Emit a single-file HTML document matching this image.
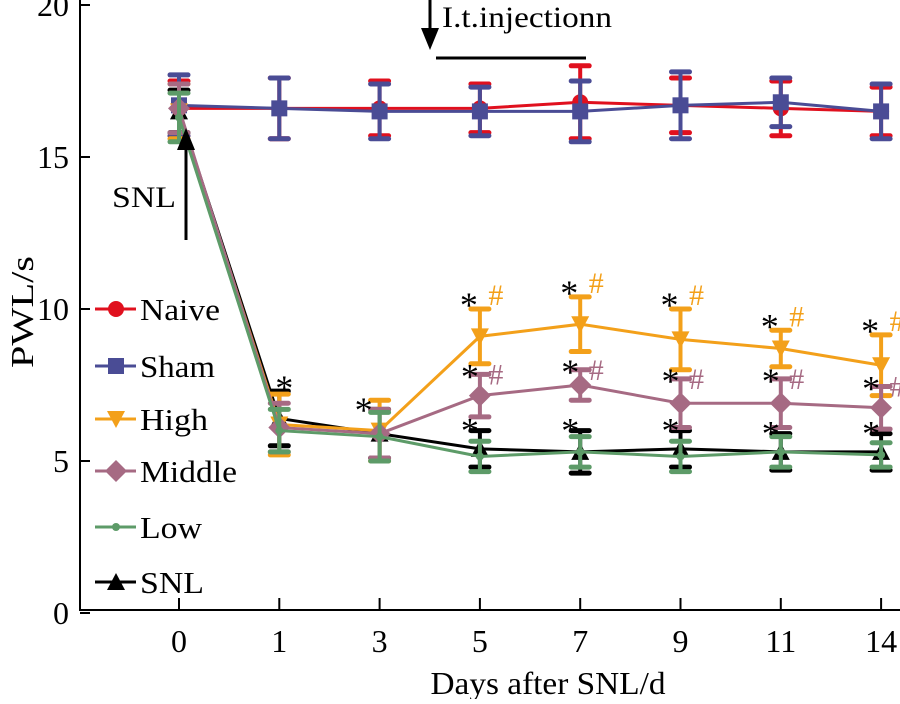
<!DOCTYPE html>
<html><head><meta charset="utf-8"><style>
body{margin:0;background:#fff}
svg text{font-family:"Liberation Serif",serif}
</style></head><body>
<svg id="c" width="900" height="699" viewBox="0 0 900 699" xmlns="http://www.w3.org/2000/svg"></svg>
<script>
const categories=["0","1","3","5","7","9","11","14"];
const yTicks=[0,5,10,15,20];
const naive=[16.6,16.6,16.6,16.6,16.8,16.7,16.6,16.5];
const naiveErr=[0.9,1.0,0.9,0.8,1.2,0.9,0.9,0.8];
const sham=[16.7,16.6,16.5,16.5,16.5,16.7,16.8,16.5];
const shamErr=[1.0,1.0,0.9,0.8,1.0,1.1,0.8,0.9];
const high=[16.5,6.2,6.0,9.1,9.5,9.0,8.7,8.15];
const highErr=[0.9,1.0,1.0,0.9,0.9,1.0,0.6,1.0];
const middle=[16.6,6.1,5.9,7.15,7.5,6.9,6.9,6.75];
const middleErr=[0.8,0.8,0.8,0.7,0.5,0.8,0.8,0.7];
const low=[16.3,6.0,5.8,5.15,5.3,5.15,5.3,5.2];
const lowErr=[0.8,0.7,0.8,0.5,0.5,0.5,0.5,0.4];
const snl=[16.5,6.4,5.9,5.4,5.3,5.4,5.3,5.3];
const snlErr=[0.7,0.9,0.8,0.6,0.7,0.6,0.6,0.6];
const NS="http://www.w3.org/2000/svg";
const svg=document.getElementById('c');
const X=i=>179+i*100.3, Y=v=>613-30.4*v;
function el(t,a,p){const e=document.createElementNS(NS,t);for(const k in a)e.setAttribute(k,a[k]);(p||svg).appendChild(e);return e;}
function txt(x,y,s,col,size,name,anchor,len){
  const a={x:x,y:y,'font-size':size,fill:col,'text-anchor':anchor||'start'};
  if(len){a.textLength=len;a.lengthAdjust='spacingAndGlyphs';}
  const t=el('text',a);
  t.textContent=s;
  
  
  return t;
}
const ax=el('line',{x1:80,y1:0,x2:80,y2:610,stroke:'#000','stroke-width':2});


const bx=el('line',{x1:79,y1:610,x2:900,y2:610,stroke:'#000','stroke-width':2});


yTicks.forEach(v=>{
  el('line',{x1:80,y1:Y(v),x2:90,y2:Y(v),stroke:'#000','stroke-width':2});
  txt(69,Y(v)+11,String(v),'#000',32,'y-tick-label','end');
});
categories.forEach((c,i)=>{
  el('line',{x1:X(i),y1:598,x2:X(i),y2:610,stroke:'#000','stroke-width':2});
  txt(X(i),652,c,'#000',32,'x-tick-label','middle');
});
const yt=txt(0,0,'PWL/s','#000',32,'y-axis-title','middle',112);
yt.setAttribute('transform','translate(33,312) rotate(-90)');
txt(548,694,'Days after SNL/d','#000',32,'x-axis-title','middle',235);
function marker(type,x,y,col,g){
  if(type==='circle')el('circle',{cx:x,cy:y,r:8,fill:col},g);
  else if(type==='square')el('rect',{x:x-8,y:y-8,width:16,height:16,fill:col},g);
  else if(type==='down')el('polygon',{points:`${x-9},${y-8} ${x+9},${y-8} ${x},${y+9}`,fill:col},g);
  else if(type==='diamond')el('polygon',{points:`${x},${y-11} ${x+11},${y} ${x},${y+11} ${x-11},${y}`,fill:col},g);
  else if(type==='dot')el('circle',{cx:x,cy:y,r:4,fill:col},g);
  else if(type==='up')el('polygon',{points:`${x-9},${y+8} ${x+9},${y+8} ${x},${y-9}`,fill:col},g);
}
const series=[
 {n:'snl',d:snl,e:snlErr,c:'#000',m:'up'},
 {n:'naive',d:naive,e:naiveErr,c:'#e0101e',m:'circle'},
 {n:'sham',d:sham,e:shamErr,c:'#4a4c95',m:'square'},
 {n:'high',d:high,e:highErr,c:'#f3a01a',m:'down'},
 {n:'middle',d:middle,e:middleErr,c:'#a66a83',m:'diamond'},
 {n:'low',d:low,e:lowErr,c:'#5d9b68',m:'dot'}];
series.forEach(s=>{
  const g=el('g',{});
  
  
  el('polyline',{points:s.d.map((v,i)=>X(i)+','+Y(v)).join(' '),fill:'none',stroke:s.c,'stroke-width':3},g);
  s.d.forEach((v,i)=>{
    const x=X(i),t=Y(v+s.e[i]),b=Y(v-s.e[i]);
    el('line',{x1:x,y1:t,x2:x,y2:b,stroke:s.c,'stroke-width':4},g);
    el('line',{x1:x-9,y1:t,x2:x+9,y2:t,stroke:s.c,'stroke-width':5,'stroke-linecap':'round'},g);
    el('line',{x1:x-9,y1:b,x2:x+9,y2:b,stroke:s.c,'stroke-width':5,'stroke-linecap':'round'},g);
    marker(s.m,x,Y(v),s.c,g);
  });
});
for(let i=3;i<8;i++){
  const ht=Y(high[i]+highErr[i]);
  txt(X(i)-11,ht+8,'*','#000',36,'high-star','middle');
  txt(X(i)+16,ht-4,'#','#f3a01a',30,'high-hash','middle');
  const mt=Y(middle[i]+middleErr[i]);
  txt(X(i)-10,mt+14,'*','#000',36,'middle-star','middle');
  txt(X(i)+16,mt+10,'#','#a66a83',30,'middle-hash','middle');
  const lt=Y(Math.max(low[i]+lowErr[i],snl[i]+snlErr[i]));
  txt(X(i)-10,lt+12,'*','#000',36,'low-star','middle');
}
txt(X(1)+5,Y(high[1]+highErr[1])+6,'*','#000',36,'day1-star','middle');
txt(X(2)-16,Y(high[2]+highErr[2])+22,'*','#000',36,'day3-star','middle');
const ann=el('g',{});


el('line',{x1:430,y1:0,x2:430,y2:38,stroke:'#000','stroke-width':3},ann);
el('polygon',{points:'421,28 439,28 430,50',fill:'#000'},ann);
el('line',{x1:436,y1:58,x2:586,y2:58,stroke:'#000','stroke-width':3},ann);
txt(442,27,'I.t.injectionn','#000',30,'injection-label','start',170);
const sa=el('g',{});


el('line',{x1:186,y1:240,x2:186,y2:145,stroke:'#000','stroke-width':3},sa);
el('polygon',{points:'177,150 195,150 186,128',fill:'#000'},sa);
txt(112,207,'SNL','#000',30,'snl-label','start',64);
const legNames=["Naive","Sham","High","Middle","Low","SNL"];
const legIdx=[1,2,3,4,5,0];
const legY=[309,366,419,471,527,582];
const legLen=[80,75,68,97,62,64];
legNames.forEach((nm,k)=>{
  const s=series[legIdx[k]];
  const g=el('g',{});
  
  
  el('line',{x1:95,y1:legY[k],x2:136,y2:legY[k],stroke:s.c,'stroke-width':3},g);
  marker(s.m,116,legY[k],s.c,g);
  const t=el('text',{x:140,y:legY[k]+11,'font-size':31,fill:'#000',textLength:legLen[k],lengthAdjust:'spacingAndGlyphs'},g);
  t.textContent=nm;
});
</script>
</body></html>
